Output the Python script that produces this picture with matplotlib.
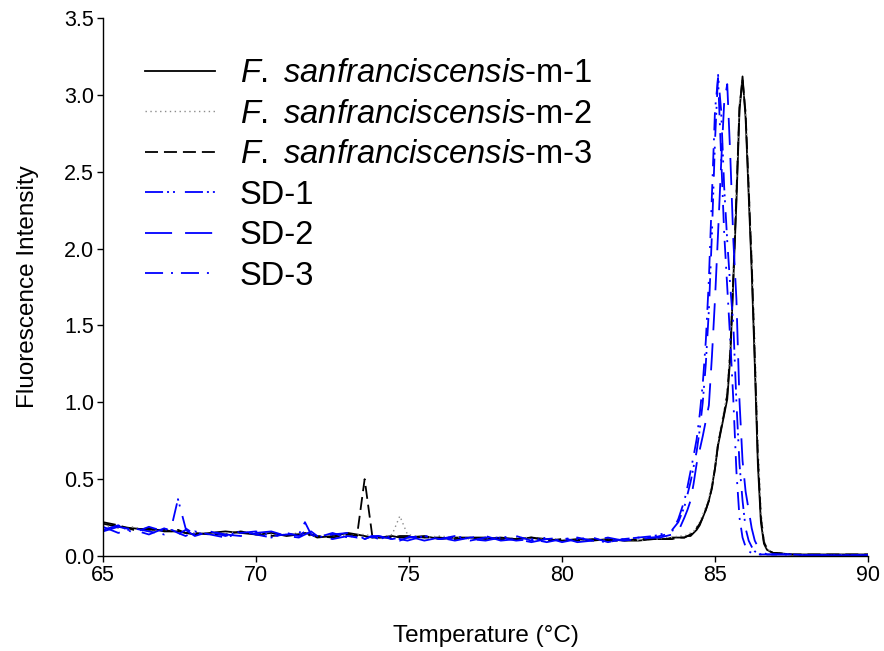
import matplotlib
matplotlib.use("Agg")
import matplotlib.pyplot as plt

plt.rcParams['font.family'] = ['Liberation Sans', 'DejaVu Sans']
plt.rcParams['mathtext.fontset'] = 'custom'
plt.rcParams['mathtext.it'] = 'Liberation Sans:italic'
plt.rcParams['mathtext.rm'] = 'Liberation Sans'

# ---------------- data ----------------
temperature = [65.0, 65.5, 66.0, 66.5, 67.0, 67.25, 67.45, 67.7, 68.0, 68.5,
               69.0, 69.5, 70.0, 70.5, 71.0, 71.4, 71.6, 71.8, 72.0, 72.5,
               73.0, 73.3, 73.55, 73.8, 74.0, 74.45, 74.7, 74.95, 75.5, 76.0,
               76.5, 77.0, 77.5, 78.0, 78.5, 79.0, 79.5, 80.0, 80.5, 81.0,
               81.5, 82.0, 82.5, 83.0,
               83.2, 83.4, 83.6, 83.8, 84.0,
               84.1, 84.2, 84.3, 84.4, 84.5, 84.6, 84.7, 84.8, 84.9, 85.0,
               85.1, 85.2, 85.3, 85.4, 85.5, 85.6, 85.7, 85.8, 85.9, 86.0,
               86.1, 86.2, 86.3, 86.4, 86.5, 86.6, 86.7, 86.8, 86.9, 87.0,
               87.5, 88.0, 88.5, 89.0, 89.5, 90.0]

fs_m1 = [0.21, 0.19, 0.18, 0.17, 0.17, 0.16, 0.16, 0.15, 0.14, 0.15,
         0.16, 0.15, 0.14, 0.15, 0.13, 0.14, 0.15, 0.14, 0.12, 0.13,
         0.15, 0.14, 0.13, 0.12, 0.12, 0.13, 0.12, 0.12, 0.13, 0.11,
         0.12, 0.12, 0.11, 0.12, 0.11, 0.12, 0.11, 0.10, 0.11, 0.10,
         0.11, 0.10, 0.10, 0.11,
         0.11, 0.11, 0.12, 0.12, 0.12,
         0.13, 0.13, 0.15, 0.17, 0.20, 0.25, 0.30, 0.36, 0.45, 0.57,
         0.72, 0.82, 0.92, 1.02, 1.30, 1.80, 2.30, 2.90, 3.12, 2.85,
         2.35, 1.85, 1.25, 0.60, 0.22, 0.08, 0.04, 0.03, 0.02, 0.02,
         0.01, 0.01, 0.01, 0.01, 0.01, 0.01]

fs_m2 = [0.20, 0.18, 0.19, 0.16, 0.17, 0.17, 0.15, 0.16, 0.15, 0.14,
         0.15, 0.16, 0.15, 0.14, 0.14, 0.15, 0.14, 0.13, 0.13, 0.14,
         0.13, 0.14, 0.14, 0.13, 0.12, 0.14, 0.26, 0.14, 0.12, 0.13,
         0.12, 0.11, 0.12, 0.11, 0.12, 0.12, 0.11, 0.11, 0.10, 0.11,
         0.10, 0.11, 0.10, 0.11,
         0.11, 0.12, 0.12, 0.13, 0.13,
         0.14, 0.15, 0.16, 0.19, 0.22, 0.27, 0.32, 0.38, 0.47, 0.60,
         0.75, 0.85, 0.95, 1.08, 1.38, 1.85, 2.40, 2.95, 3.08, 2.90,
         2.45, 1.95, 1.40, 0.75, 0.30, 0.10, 0.05, 0.03, 0.02, 0.02,
         0.01, 0.01, 0.01, 0.01, 0.01, 0.01]

fs_m3 = [0.22, 0.20, 0.17, 0.18, 0.16, 0.16, 0.17, 0.15, 0.15, 0.14,
         0.14, 0.16, 0.14, 0.13, 0.14, 0.14, 0.13, 0.14, 0.13, 0.12,
         0.14, 0.13, 0.50, 0.13, 0.12, 0.12, 0.13, 0.13, 0.12, 0.12,
         0.11, 0.12, 0.12, 0.11, 0.11, 0.12, 0.10, 0.11, 0.10, 0.11,
         0.10, 0.10, 0.11, 0.11,
         0.11, 0.11, 0.11, 0.12, 0.12,
         0.13, 0.14, 0.15, 0.18, 0.21, 0.25, 0.30, 0.36, 0.44, 0.57,
         0.73, 0.83, 0.93, 1.05, 1.33, 1.82, 2.35, 2.92, 3.10, 2.88,
         2.40, 1.90, 1.30, 0.65, 0.25, 0.09, 0.05, 0.03, 0.02, 0.02,
         0.01, 0.01, 0.01, 0.01, 0.01, 0.01]

sd_1 = [0.17, 0.20, 0.15, 0.19, 0.16, 0.20, 0.37, 0.18, 0.14, 0.16,
        0.13, 0.16, 0.14, 0.12, 0.15, 0.13, 0.16, 0.14, 0.12, 0.15,
        0.12, 0.14, 0.11, 0.13, 0.11, 0.13, 0.11, 0.10, 0.13, 0.11,
        0.13, 0.11, 0.10, 0.12, 0.13, 0.10, 0.12, 0.09, 0.11, 0.12,
        0.09, 0.11, 0.12, 0.13,
        0.14, 0.15, 0.17, 0.22, 0.32,
        0.40, 0.48, 0.58, 0.68, 0.82, 1.00, 1.25, 1.60, 2.10, 2.70,
        3.13, 2.90, 2.40, 2.05, 1.75, 1.50, 1.00, 0.60, 0.36, 0.18,
        0.10, 0.06, 0.03, 0.02, 0.01, 0.01, 0.01, 0.01, 0.01, 0.01,
        0.01, 0.005, 0.005, 0.005, 0.005, 0.005]

sd_2 = [0.16, 0.19, 0.17, 0.14, 0.18, 0.16, 0.14, 0.17, 0.13, 0.16,
        0.14, 0.13, 0.15, 0.16, 0.13, 0.12, 0.14, 0.16, 0.13, 0.11,
        0.13, 0.12, 0.14, 0.12, 0.13, 0.11, 0.12, 0.13, 0.10, 0.12,
        0.10, 0.12, 0.13, 0.10, 0.11, 0.09, 0.11, 0.12, 0.09, 0.10,
        0.12, 0.10, 0.11, 0.12,
        0.12, 0.13, 0.14, 0.16, 0.25,
        0.30, 0.36, 0.47, 0.60, 0.69, 0.78, 0.88, 0.98, 1.30, 1.67,
        2.10, 2.55, 2.95, 3.07, 2.60, 2.05, 1.67, 1.01, 0.62, 0.42,
        0.30, 0.18, 0.10, 0.06, 0.03, 0.02, 0.01, 0.01, 0.01, 0.01,
        0.01, 0.005, 0.005, 0.005, 0.005, 0.005]

sd_3 = [0.19, 0.15, 0.18, 0.16, 0.14, 0.17, 0.15, 0.13, 0.16, 0.14,
        0.12, 0.15, 0.16, 0.13, 0.14, 0.14, 0.22, 0.14, 0.12, 0.14,
        0.15, 0.12, 0.11, 0.13, 0.13, 0.11, 0.10, 0.12, 0.13, 0.11,
        0.12, 0.10, 0.12, 0.12, 0.10, 0.11, 0.09, 0.11, 0.12, 0.10,
        0.09, 0.11, 0.12, 0.12,
        0.13, 0.14, 0.16, 0.24, 0.36,
        0.45, 0.55, 0.65, 0.76, 0.92, 1.12, 1.40, 1.80, 2.35, 2.90,
        3.11, 2.60, 2.10, 1.75, 1.40, 1.01, 0.55, 0.25, 0.12, 0.06,
        0.03, 0.02, 0.015, 0.01, 0.01, 0.01, 0.01, 0.01, 0.01, 0.01,
        0.01, 0.005, 0.005, 0.005, 0.005, 0.005]

labels = [r'$\mathit{F.\ sanfranciscensis}$-m-1',
          r'$\mathit{F.\ sanfranciscensis}$-m-2',
          r'$\mathit{F.\ sanfranciscensis}$-m-3',
          'SD-1', 'SD-2', 'SD-3']

x_ticks = [65, 70, 75, 80, 85, 90]
y_ticks = [0.0, 0.5, 1.0, 1.5, 2.0, 2.5, 3.0, 3.5]

# ---------------- plot ----------------
fig = plt.figure(figsize=(8.84, 6.51), dpi=100)
ax = fig.add_axes([103/884, 95/651, 765/884, 538/651])

series = [fs_m1, fs_m2, fs_m3, sd_1, sd_2, sd_3]
styles = [
    dict(color='black', lw=1.3, ls='-'),
    dict(color='#8c8c8c', lw=1.0, ls=(0, (1, 2.5))),
    dict(color='black', lw=1.3, ls=(0, (7.2, 3.3))),
    dict(color='#0000ff', lw=1.3, ls=(0, (10, 2.2, 1.1, 2.2, 1.1, 5.5))),
    dict(color='#0000ff', lw=1.3, ls=(0, (15, 7.2))),
    dict(color='#0000ff', lw=1.3, ls=(0, (10, 4.4, 1.1, 4.4))),
]
for vals, lab, st in zip(series, labels, styles):
    ax.plot(temperature, vals, label=lab, **st)

ax.set_xlim(65, 90)
ax.set_ylim(0, 3.5)
ax.set_xticks(x_ticks)
ax.set_xticklabels([str(t) for t in x_ticks])
ax.set_yticks(y_ticks)
ax.set_yticklabels([f'{t:.1f}' for t in y_ticks])
ax.spines['top'].set_visible(False)
ax.spines['right'].set_visible(False)
for s in ['left', 'bottom']:
    ax.spines[s].set_linewidth(1.0)
ax.tick_params(direction='out', length=4.5, width=1.0, labelsize=15.5, pad=2)

ax.set_xlabel('Temperature (°C)', fontsize=17.5, labelpad=28)
ax.set_ylabel('Fluorescence Intensity', fontsize=17.5, labelpad=18)

leg = ax.legend(loc='upper left', bbox_to_anchor=(0.055, 0.925), frameon=False,
                fontsize=23.5, handlelength=2.15, handletextpad=0.75,
                labelspacing=0.29, borderpad=0, borderaxespad=0)

fig.savefig('out.png', dpi=100)
